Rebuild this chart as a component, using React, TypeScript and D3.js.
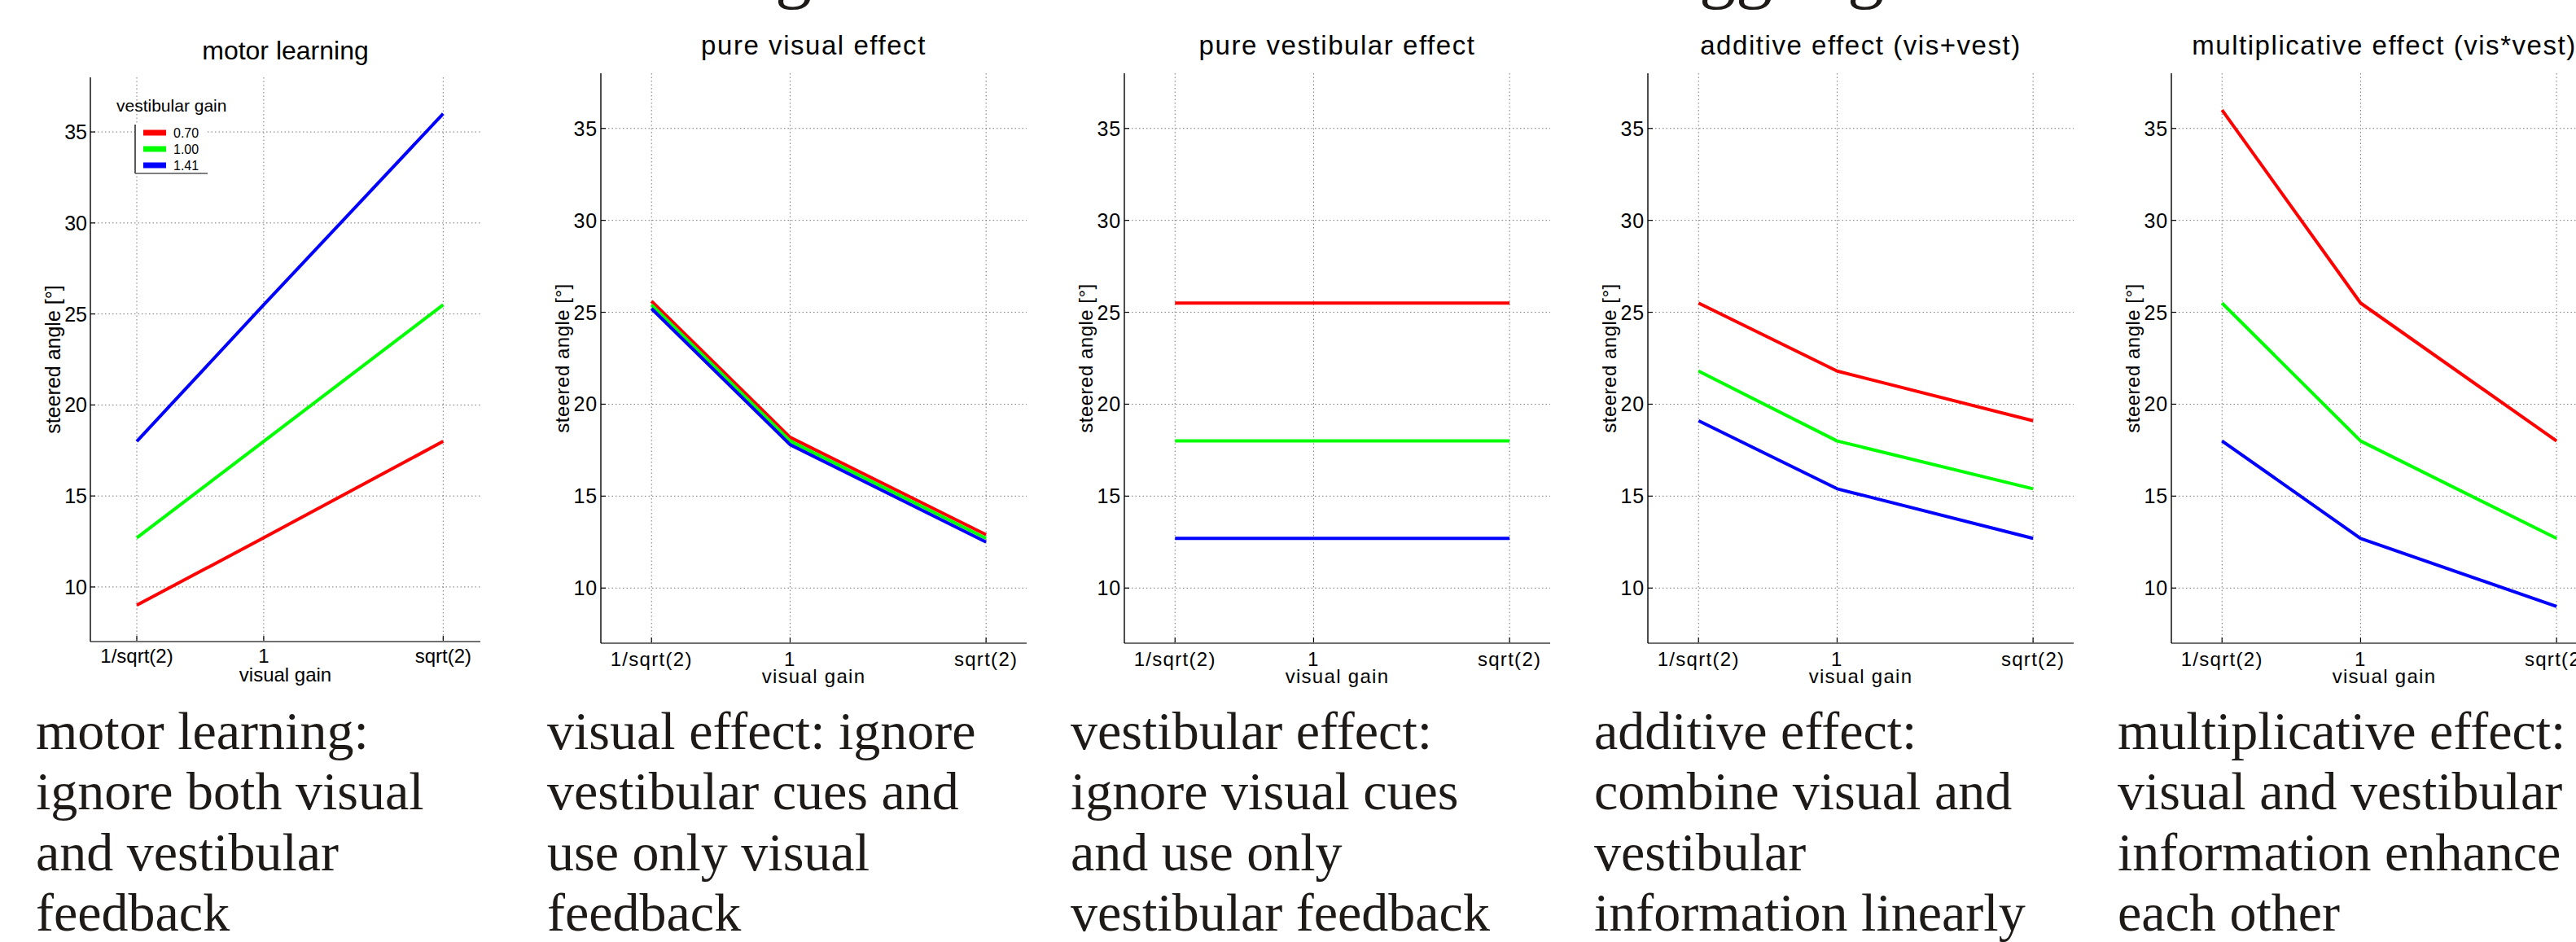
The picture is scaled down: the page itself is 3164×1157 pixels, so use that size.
import * as d3 from "d3";

const pageWidth = 3164;
const pageHeight = 1157;

const visualGains = [0.7071, 1, 1.4142];
const visualTickLabels = ["1/sqrt(2)", "1", "sqrt(2)"];
const vestibularGainLabels = ["0.70", "1.00", "1.41"];
const seriesColors = ["#ff0000", "#00ff00", "#0000ff"];
const angleTicks = [10, 15, 20, 25, 30, 35];

const panelTitles = [
  "motor learning",
  "pure visual effect",
  "pure vestibular effect",
  "additive effect (vis+vest)",
  "multiplicative effect (vis*vest)",
];

// steered angle per vestibular gain (rows) at each visual gain (columns)
const motorLearning = [
  [9.0, 12.7, 18.0],
  [12.7, 18.0, 25.5],
  [18.0, 25.5, 36.0],
];
const pureVisual = [
  [25.6, 18.2, 12.9],
  [25.4, 18.0, 12.7],
  [25.2, 17.8, 12.5],
];
const pureVestibular = [
  [25.5, 25.5, 25.5],
  [18.0, 18.0, 18.0],
  [12.7, 12.7, 12.7],
];
const additive = [
  [25.5, 21.8, 19.1],
  [21.8, 18.0, 15.4],
  [19.1, 15.4, 12.7],
];
const multiplicative = [
  [36.0, 25.5, 18.0],
  [25.5, 18.0, 12.7],
  [18.0, 12.7, 9.0],
];

const captions = [
  ["motor learning:", "ignore both visual", "and vestibular", "feedback"],
  ["visual effect: ignore", "vestibular cues and", "use only visual", "feedback"],
  ["vestibular effect:", "ignore visual cues", "and use only", "vestibular feedback"],
  ["additive effect:", "combine visual and", "vestibular", "information linearly"],
  ["multiplicative effect:", "visual and vestibular", "information enhance", "each other"],
];

// descenders of the heading that was cropped off above the panels
const headingGlyphX = [952, 2087, 2132, 2269];

const panelData = [motorLearning, pureVisual, pureVestibular, additive, multiplicative];

const sans = "'Liberation Sans', Arial, sans-serif";
const serif = "'Liberation Serif', 'Times New Roman', serif";

interface PanelLayout {
  left: number;
  width: number;
  top: number;
  bottom: number;
  titleY: number;
  titleSize: number;
  titleSpacing: number;
  tickSize: number;
  tickSpacing: number;
  tickBaseline: number;
  labelBaseline: number;
  yLabelOffset: number;
  yLabelSize: number;
  yLabelSpacing: number;
}

const firstLayout: PanelLayout = {
  left: 111,
  width: 479,
  top: 95,
  bottom: 788,
  titleY: 73,
  titleSize: 32,
  titleSpacing: 0,
  tickSize: 24,
  tickSpacing: 0,
  tickBaseline: 26,
  labelBaseline: 49,
  yLabelOffset: 37,
  yLabelSize: 25,
  yLabelSpacing: 0,
};

function layoutFor(index: number): PanelLayout {
  if (index === 0) return firstLayout;
  return {
    left: 738 + (index - 1) * 643,
    width: 523,
    top: 90,
    bottom: 790,
    titleY: 67,
    titleSize: 33,
    titleSpacing: 1.55,
    tickSize: 24,
    tickSpacing: 1.3,
    tickBaseline: 28,
    labelBaseline: 49,
    yLabelOffset: 39,
    yLabelSize: 24,
    yLabelSpacing: 0.5,
  };
}

function Panel({ index }: { index: number }) {
  const layout = layoutFor(index);
  const series = panelData[index];
  const x = d3.scaleLinear().domain([0.6, 1.5]).range([layout.left, layout.left + layout.width]);
  const y = d3.scaleLinear().domain([7, 38]).range([layout.bottom, layout.top]);
  const line = d3
    .line<number>()
    .x((_, i) => x(visualGains[i]))
    .y((value) => y(value));
  const right = layout.left + layout.width;
  const centerX = layout.left + layout.width / 2;
  const centerY = (layout.top + layout.bottom) / 2;
  const gridStyle = { stroke: "#7a7a7a", strokeWidth: 1, strokeDasharray: "1.5 3" };

  return (
    <g>
      <text x={centerX} y={layout.titleY} textAnchor="middle" fontFamily={sans} fontSize={layout.titleSize} letterSpacing={layout.titleSpacing} fill="#000">
        {panelTitles[index]}
      </text>

      {angleTicks.map((tick) => (
        <g key={`y-${tick}`}>
          <line x1={layout.left} x2={right} y1={y(tick)} y2={y(tick)} {...gridStyle} />
          <line x1={layout.left} x2={layout.left + 6} y1={y(tick)} y2={y(tick)} stroke="#000" strokeWidth={1.2} />
          <text x={layout.left - 4} y={y(tick)} dy="0.36em" textAnchor="end" fontFamily={sans} fontSize={index === 0 ? 25 : 25} letterSpacing={index === 0 ? 0 : 0.8} fill="#000">
            {tick}
          </text>
        </g>
      ))}

      {visualGains.map((gain, i) => (
        <g key={`x-${gain}`}>
          <line x1={x(gain)} x2={x(gain)} y1={layout.top} y2={layout.bottom} {...gridStyle} />
          <line x1={x(gain)} x2={x(gain)} y1={layout.bottom} y2={layout.bottom - 7} stroke="#000" strokeWidth={1.2} />
          <text x={x(gain)} y={layout.bottom + layout.tickBaseline} textAnchor="middle" fontFamily={sans} fontSize={layout.tickSize} letterSpacing={layout.tickSpacing} fill="#000">
            {visualTickLabels[i]}
          </text>
        </g>
      ))}

      <line x1={layout.left} x2={right} y1={layout.bottom} y2={layout.bottom} stroke="#707070" strokeWidth={2.2} />
      <line x1={layout.left} x2={layout.left} y1={layout.top} y2={layout.bottom} stroke="#000" strokeWidth={1.4} />

      <text x={centerX} y={layout.bottom + layout.labelBaseline} textAnchor="middle" fontFamily={sans} fontSize={layout.tickSize} letterSpacing={layout.tickSpacing} fill="#000">
        visual gain
      </text>
      <text
        transform={`translate(${layout.left - layout.yLabelOffset}, ${centerY}) rotate(-90)`}
        textAnchor="middle"
        fontFamily={sans}
        fontSize={layout.yLabelSize}
        letterSpacing={layout.yLabelSpacing}
        fill="#000"
      >
        steered angle [°]
      </text>

      {series.map((values, i) => (
        <path key={`s-${i}`} d={line(values) ?? ""} fill="none" stroke={seriesColors[i]} strokeWidth={4} strokeLinejoin="round" />
      ))}

      {index === 0 ? <Legend left={layout.left} /> : null}

      {captions[index].map((row, i) => (
        <text key={`c-${i}`} x={index === 0 ? 44 : layout.left - 66} y={920 + i * 74.3} fontFamily={serif} fontSize={66} fill="#1e1a17">
          {row}
        </text>
      ))}
    </g>
  );
}

function Legend({ left }: { left: number }) {
  const boxLeft = left + 55;
  const boxTop = 153;
  const boxBottom = 213;
  const boxRight = left + 144;
  const rowY = d3.scalePoint<string>().domain(vestibularGainLabels).range([163, 203]);
  return (
    <g>
      <text x={left + 32} y={137} fontFamily={sans} fontSize={21} fill="#000">
        vestibular gain
      </text>
      <rect x={boxLeft} y={boxTop} width={boxRight - boxLeft} height={boxBottom - boxTop} fill="#fff" />
      <line x1={boxLeft} x2={boxLeft} y1={boxTop} y2={boxBottom} stroke="#000" strokeWidth={1.3} />
      <line x1={boxLeft} x2={boxRight} y1={boxBottom} y2={boxBottom} stroke="#555" strokeWidth={1.6} />
      {vestibularGainLabels.map((label, i) => (
        <g key={label}>
          <line x1={boxLeft + 10} x2={boxLeft + 38} y1={rowY(label)} y2={rowY(label)} stroke={seriesColors[i]} strokeWidth={7} />
          <text x={boxLeft + 47} y={(rowY(label) ?? 0) + 6} fontFamily={sans} fontSize={16} fill="#000">
            {label}
          </text>
        </g>
      ))}
    </g>
  );
}

export default function App() {
  return (
    <div style={{ width: pageWidth, height: pageHeight, overflow: "hidden", background: "#fff" }}>
      <style>{"body{margin:0;overflow:hidden;background:#fff}"}</style>
      <svg width={pageWidth} height={pageHeight} viewBox={`0 0 ${pageWidth} ${pageHeight}`} style={{ display: "block" }}>
        <rect width={pageWidth} height={pageHeight} fill="#fff" />
        {headingGlyphX.map((gx) => (
          <text key={gx} x={gx} y={-7} fontFamily={serif} fontSize={90} fill="#1e1a17">
            g
          </text>
        ))}
        {panelTitles.map((title, i) => (
          <Panel key={title} index={i} />
        ))}
      </svg>
    </div>
  );
}
